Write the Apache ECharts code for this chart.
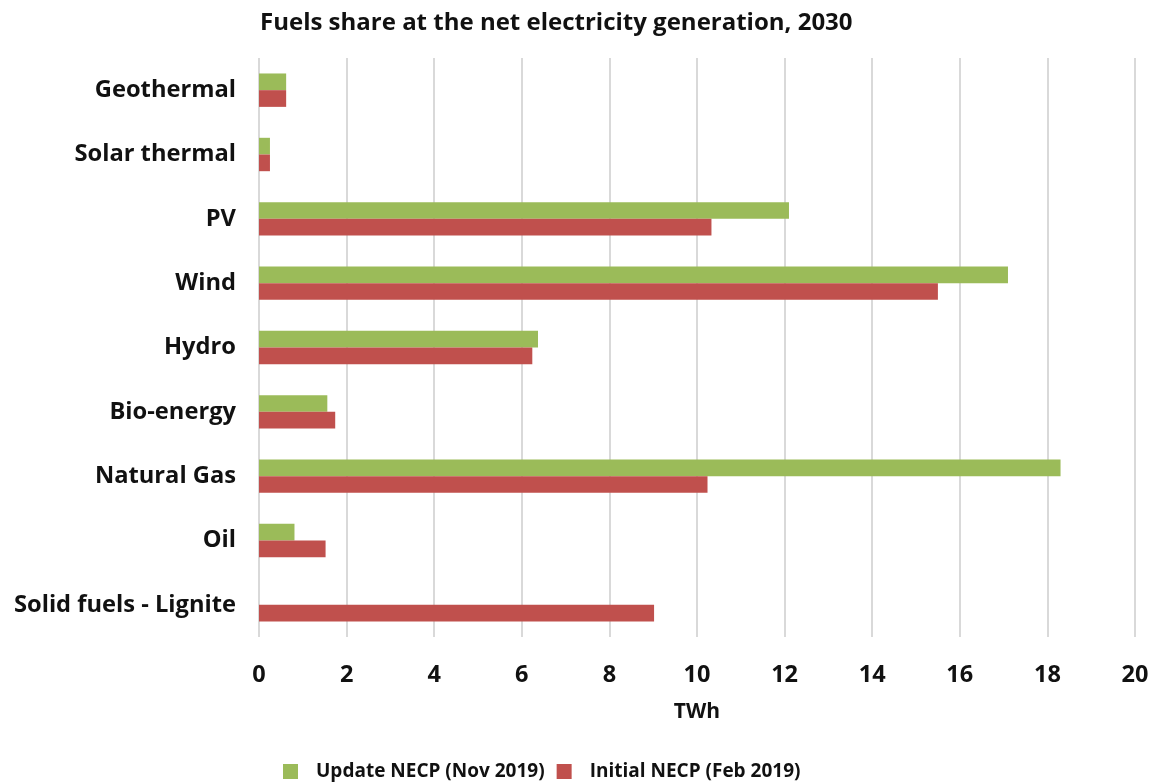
<!DOCTYPE html>
<html>
<head>
<meta charset="utf-8">
<script src="https://cdn.jsdelivr.net/npm/echarts@6/dist/echarts.min.js"></script>
<style>
html,body{margin:0;padding:0;background:#fff;}
#chart{width:1156px;height:782px;}
</style>
</head>
<body>
<div id="chart"></div>
<script>
const categories = ["Geothermal","Solar thermal","PV","Wind","Hydro","Bio-energy","Natural Gas","Oil","Solid fuels - Lignite"];
const updateNECP = [0.62, 0.25, 12.1, 17.1, 6.37, 1.56, 18.3, 0.81, 0];
const initialNECP = [0.62, 0.25, 10.33, 15.5, 6.24, 1.74, 10.24, 1.52, 9.02];
const seriesNames = ["Update NECP (Nov 2019)", "Initial NECP (Feb 2019)"];
const xTicks = {min: 0, max: 20, interval: 2};

const FONT = '"Open Sans", Lato, sans-serif';
const chart = echarts.init(document.getElementById('chart'));
chart.setOption({
  backgroundColor: '#ffffff',
  animation: false,
  title: {
    text: 'Fuels share at the net electricity generation, 2030',
    left: 255,
    top: 6,
    textStyle: {fontFamily: FONT, fontWeight: 'bold', fontSize: 24, color: '#111'}
  },
  legend: {
    bottom: -4,
    left: 278,
    itemWidth: 15,
    itemHeight: 15,
    itemGap: 12,
    icon: 'rect',
    textStyle: {fontFamily: FONT, fontWeight: 'bold', fontSize: 19, color: '#111', padding: [0,0,0,13]},
    data: seriesNames
  },
  grid: {left: 259, right: 21, top: 58, bottom: 145, containLabel: false},
  xAxis: {
    type: 'value',
    min: xTicks.min, max: xTicks.max, interval: xTicks.interval,
    name: 'TWh',
    nameLocation: 'middle',
    nameGap: 65,
    nameTextStyle: {fontFamily: FONT, fontWeight: 'bold', fontSize: 21, color: '#111'},
    axisLine: {show: false},
    axisTick: {show: false},
    axisLabel: {fontFamily: FONT, fontWeight: 'bold', fontSize: 23.5, color: '#111', margin: 26},
    splitLine: {show: true, lineStyle: {color: '#d9d9d9', width: 2}}
  },
  yAxis: {
    type: 'category',
    inverse: true,
    data: categories,
    axisLine: {show: false},
    axisTick: {show: false},
    axisLabel: {fontFamily: FONT, fontWeight: 'bold', fontSize: 23.7, color: '#111', margin: 23}
  },
  series: [
    {name: seriesNames[0], type: 'bar', data: updateNECP, barWidth: 16.7, barGap: '0%', itemStyle: {color: '#9bbb59'}},
    {name: seriesNames[1], type: 'bar', data: initialNECP, barWidth: 16.7, barGap: '0%', itemStyle: {color: '#c0504d'}}
  ]
});
</script>
</body>
</html>
